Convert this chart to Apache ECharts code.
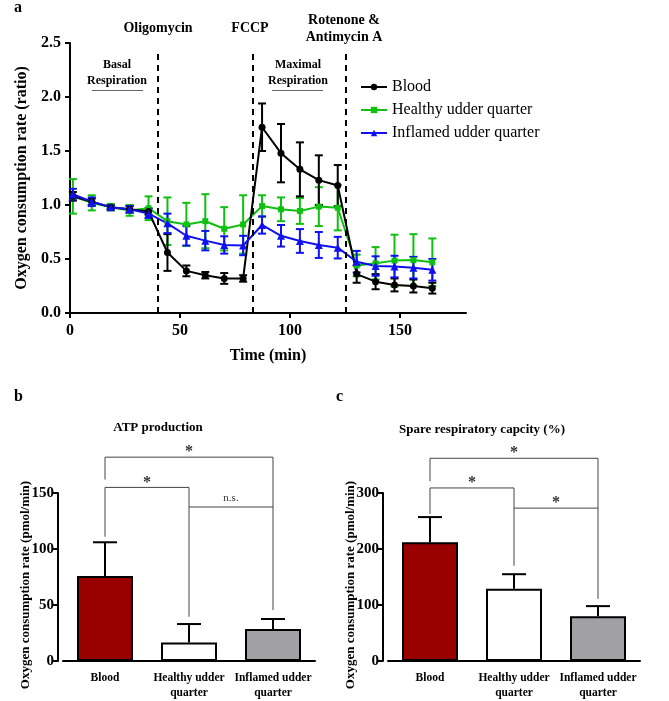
<!DOCTYPE html>
<html>
<head>
<meta charset="utf-8">
<script src="https://cdn.jsdelivr.net/npm/echarts@6.0.0/dist/echarts.min.js"></script>
<style>
  html, body { margin: 0; padding: 0; background: #fff; }
  #chart { width: 669px; height: 701px; }
</style>
</head>
<body>
<div id="chart"></div>
<script>
// panel a: OCR time course
const times = [1.3, 9.9, 18.5, 27.1, 35.7, 44.3, 52.9, 61.5, 70.1, 78.7, 87.3, 95.9, 104.5, 113.1, 121.7, 130.3, 138.9, 147.5, 156.1, 164.7];
const blood = [1.08, 1.03, 0.98, 0.96, 0.94, 0.56, 0.39, 0.35, 0.32, 0.32, 1.72, 1.48, 1.33, 1.23, 1.18, 0.36, 0.29, 0.26, 0.25, 0.23];
const bloodErr = [0.04, 0.03, 0.02, 0.03, 0.03, 0.17, 0.05, 0.03, 0.05, 0.03, 0.22, 0.27, 0.25, 0.23, 0.19, 0.08, 0.07, 0.06, 0.06, 0.05];
const healthy = [1.08, 1.02, 0.98, 0.95, 0.97, 0.85, 0.82, 0.85, 0.78, 0.82, 0.99, 0.96, 0.945, 0.985, 0.975, 0.44, 0.46, 0.485, 0.49, 0.47];
const healthyErr = [0.16, 0.07, 0.03, 0.05, 0.11, 0.22, 0.2, 0.25, 0.2, 0.27, 0.1, 0.11, 0.12, 0.18, 0.21, 0.1, 0.15, 0.24, 0.24, 0.22];
const inflamed = [1.1, 1.03, 0.98, 0.96, 0.92, 0.83, 0.715, 0.67, 0.63, 0.625, 0.815, 0.715, 0.667, 0.63, 0.605, 0.475, 0.435, 0.43, 0.42, 0.4];
const inflamedErr = [0.05, 0.04, 0.02, 0.03, 0.04, 0.09, 0.09, 0.09, 0.08, 0.09, 0.08, 0.1, 0.11, 0.12, 0.1, 0.1, 0.09, 0.1, 0.1, 0.1];
const injections = [40, 83, 125.5];
const timeTicks = [0, 50, 100, 150];

// panels b and c
const groups = ["Blood", "Healthy udder\nquarter", "Inflamed udder\nquarter"];
const atp = [76, 16.5, 28.5];
const atpErr = [30, 16.5, 9];
const spare = [212, 129, 80];
const spareErr = [45, 26, 18];
// [from, to, level, left leg end, right leg end]
const atpBrackets = [[0, 2, 182, 162, 137.5], [0, 1, 155, 111, 137.5], [1, 2, 137.5, 39.5, 45.5]];
const atpSig = ["*", "*", "n.s."];
const spareBrackets = [[0, 2, 362, 321, 273], [0, 1, 309, 263, 273], [1, 2, 273, 170, 111]];
const spareSig = ["*", "*", "*"];

const FONT = "Liberation Serif";
const barColors = ["#990000", "#ffffff", "#a1a1a5"];

const chart = echarts.init(document.getElementById("chart"));

const errRender = (color, capHalf, lowCap) => (params, api) => {
  const x = api.value(0);
  const lo = api.coord([x, api.value(1)]);
  const hi = api.coord([x, api.value(2)]);
  const st = { stroke: color, lineWidth: 2 };
  const parts = [
    { type: "line", shape: { x1: lo[0], y1: lo[1], x2: hi[0], y2: hi[1] }, style: st },
    { type: "line", shape: { x1: hi[0] - capHalf, y1: hi[1], x2: hi[0] + capHalf, y2: hi[1] }, style: st },
  ];
  if (lowCap) {
    parts.push({ type: "line", shape: { x1: lo[0] - capHalf, y1: lo[1], x2: lo[0] + capHalf, y2: lo[1] }, style: st });
  }
  return { type: "group", children: parts };
};

const bracketRender = (labels) => (params, api) => {
  const a = api.value(0), b = api.value(1), lv = api.value(2);
  const pL = api.coord([a, api.value(3)]);
  const tL = api.coord([a, lv]);
  const tR = api.coord([b, lv]);
  const pR = api.coord([b, api.value(4)]);
  const txt = labels[params.dataIndex];
  return {
    type: "group",
    children: [
      { type: "polyline", shape: { points: [pL, tL, tR, pR] }, style: { stroke: "#444", lineWidth: 1, fill: null } },
      {
        type: "text",
        x: (tL[0] + tR[0]) / 2,
        y: tL[1] - (txt === "*" ? -3 : 3),
        style: {
          text: txt,
          fill: "#333",
          font: (txt === "*" ? "bold 16px " : "11px ") + FONT,
          align: "center",
          verticalAlign: "bottom",
        },
      },
    ],
  };
};

const errData = (vals, errs, xs) => vals.map((v, i) => [xs[i], v - errs[i], v + errs[i]]);
const upErr = (vals, errs) => vals.map((v, i) => [i, v, v + errs[i]]);
const pairs = (vals) => vals.map((v, i) => [times[i], v]);

const axisLine = { lineStyle: { color: "#000", width: 2 } };
const axisTick = { length: 5, lineStyle: { color: "#000", width: 2 } };
const boldLabel = (size) => ({ color: "#000", fontFamily: FONT, fontWeight: "bold", fontSize: size });

const barXAxis = (grid) => ({
  type: "category",
  gridIndex: grid,
  data: groups,
  axisLine: axisLine,
  axisTick: Object.assign({ alignWithLabel: true }, axisTick),
  axisLabel: Object.assign({ interval: 0, margin: 10, lineHeight: 15 }, boldLabel(11.5)),
});
const barYAxis = (grid, max, step) => ({
  type: "value",
  gridIndex: grid,
  min: 0,
  max: max,
  interval: step,
  offset: 5,
  name: "Oxygen consumption rate (pmol/min)",
  nameLocation: "middle",
  nameGap: 26,
  nameMoveOverlap: false,
  nameTextStyle: Object.assign({ padding: [0, 0, 0, -16] }, boldLabel(13)),
  axisLine: Object.assign({ show: true }, axisLine),
  axisTick: Object.assign({ show: true }, axisTick),
  axisLabel: Object.assign({ margin: 4 }, boldLabel(15)),
  splitLine: { show: false },
});

const lineSeries = (name, vals, color, symbol, size) => ({
  name: name,
  type: "line",
  xAxisIndex: 0,
  yAxisIndex: 0,
  data: pairs(vals),
  symbol: symbol,
  symbolSize: size,
  color: color,
  lineStyle: { color: color, width: 2 },
  itemStyle: { color: color },
  z: 3,
});

chart.setOption({
  animation: false,
  backgroundColor: "#fff",
  textStyle: { fontFamily: FONT },
  title: [
    { text: "a", left: 14, top: 0, padding: 0, textStyle: boldLabel(16) },
    { text: "b", left: 14, top: 389, padding: 0, textStyle: boldLabel(16) },
    { text: "c", left: 336, top: 389, padding: 0, textStyle: boldLabel(16) },
    { text: "ATP production", left: 158, top: 421, padding: 0, textAlign: "center", textStyle: boldLabel(13) },
    { text: "Spare respiratory capcity (%)", left: 482, top: 423, padding: 0, textAlign: "center", textStyle: boldLabel(13) },
  ],
  legend: {
    data: ["Blood", "Healthy udder quarter", "Inflamed udder quarter"],
    orient: "vertical",
    left: 355,
    top: 74,
    itemWidth: 26,
    itemHeight: 8,
    itemGap: 7,
    textStyle: { color: "#000", fontFamily: FONT, fontSize: 16 },
  },
  grid: [
    { left: 70, top: 43, width: 396, height: 270 },
    { left: 63, top: 493, width: 252, height: 168 },
    { left: 388, top: 493, width: 252, height: 168 },
  ],
  xAxis: [
    {
      type: "value",
      gridIndex: 0,
      min: 0,
      max: 180,
      interval: 50,
      name: "Time (min)",
      nameLocation: "middle",
      nameGap: 35,
      nameTextStyle: boldLabel(16),
      axisLine: axisLine,
      axisTick: Object.assign({ customValues: timeTicks }, axisTick),
      axisLabel: Object.assign({ customValues: timeTicks, margin: 10 }, boldLabel(16)),
      splitLine: { show: false },
    },
    barXAxis(1),
    barXAxis(2),
  ],
  yAxis: [
    {
      type: "value",
      gridIndex: 0,
      min: 0,
      max: 2.5,
      interval: 0.5,
      name: "Oxygen consumption rate (ratio)",
      nameLocation: "middle",
      nameGap: 40,
      nameMoveOverlap: false,
      nameTextStyle: boldLabel(16),
      axisLine: Object.assign({ show: true }, axisLine),
      axisTick: Object.assign({ show: true }, axisTick),
      axisLabel: Object.assign({ margin: 9, formatter: (v) => v.toFixed(1) }, boldLabel(16)),
      splitLine: { show: false },
    },
    barYAxis(1, 150, 50),
    barYAxis(2, 300, 100),
  ],
  series: [
    {
      type: "custom",
      xAxisIndex: 0,
      yAxisIndex: 0,
      data: errData(healthy, healthyErr, times),
      renderItem: errRender("#10c010", 4, true),
      z: 1,
      silent: true,
    },
    {
      type: "custom",
      xAxisIndex: 0,
      yAxisIndex: 0,
      data: errData(blood, bloodErr, times),
      renderItem: errRender("#000", 4, true),
      z: 1,
      silent: true,
    },
    {
      type: "custom",
      xAxisIndex: 0,
      yAxisIndex: 0,
      data: errData(inflamed, inflamedErr, times),
      renderItem: errRender("#1010f0", 4, true),
      z: 2,
      silent: true,
    },
    Object.assign(lineSeries("Healthy udder quarter", healthy, "#10c010", "rect", 6), {
      markLine: {
        silent: true,
        symbol: "none",
        label: { show: false },
        lineStyle: { color: "#000", width: 2, type: [6, 5] },
        data: injections.map((t) => [{ coord: [t, 0] }, { coord: [t, 2.44] }]),
      },
    }),
    lineSeries("Blood", blood, "#000", "circle", 7),
    lineSeries("Inflamed udder quarter", inflamed, "#1010f0", "triangle", 8),

    // panel b
    {
      type: "bar",
      xAxisIndex: 1,
      yAxisIndex: 1,
      barWidth: 56,
      data: atp.map((v, i) => ({ value: v, itemStyle: { color: barColors[i] } })),
      itemStyle: { borderColor: "#000", borderWidth: 2 },
      z: 3,
    },
    { type: "custom", xAxisIndex: 1, yAxisIndex: 1, data: upErr(atp, atpErr), renderItem: errRender("#000", 12, false), z: 2 },
    { type: "custom", xAxisIndex: 1, yAxisIndex: 1, data: atpBrackets, renderItem: bracketRender(atpSig), z: 1 },

    // panel c
    {
      type: "bar",
      xAxisIndex: 2,
      yAxisIndex: 2,
      barWidth: 56,
      data: spare.map((v, i) => ({ value: v, itemStyle: { color: barColors[i] } })),
      itemStyle: { borderColor: "#000", borderWidth: 2 },
      z: 3,
    },
    { type: "custom", xAxisIndex: 2, yAxisIndex: 2, data: upErr(spare, spareErr), renderItem: errRender("#000", 12, false), z: 2 },
    { type: "custom", xAxisIndex: 2, yAxisIndex: 2, data: spareBrackets, renderItem: bracketRender(spareSig), z: 1 },
  ],
  graphic: [
    { type: "text", x: 158, y: 28, style: { text: "Oligomycin", font: "bold 14px " + FONT, fill: "#000", align: "center", verticalAlign: "middle" } },
    { type: "text", x: 250, y: 28, style: { text: "FCCP", font: "bold 14px " + FONT, fill: "#000", align: "center", verticalAlign: "middle" } },
    { type: "text", x: 344, y: 29, style: { text: "Rotenone &\nAntimycin A", font: "bold 14px " + FONT, lineHeight: 17, fill: "#000", align: "center", verticalAlign: "middle" } },
    { type: "text", x: 117, y: 73, style: { text: "Basal\nRespiration", font: "bold 12px " + FONT, lineHeight: 16, fill: "#000", align: "center", verticalAlign: "middle" } },
    { type: "text", x: 298, y: 73, style: { text: "Maximal\nRespiration", font: "bold 12px " + FONT, lineHeight: 16, fill: "#000", align: "center", verticalAlign: "middle" } },
    { type: "line", shape: { x1: 92, y1: 90.5, x2: 143, y2: 90.5 }, style: { stroke: "#666", lineWidth: 1 } },
    { type: "line", shape: { x1: 272, y1: 90.5, x2: 323, y2: 90.5 }, style: { stroke: "#666", lineWidth: 1 } },
  ],
});
window.addEventListener("resize", () => chart.resize());
</script>
</body>
</html>
